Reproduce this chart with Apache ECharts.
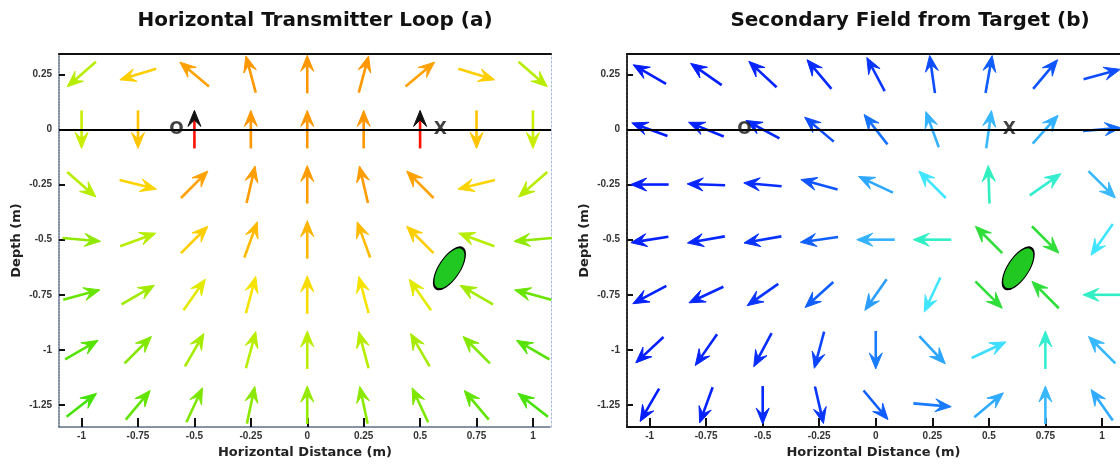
<!DOCTYPE html>
<html>
<head>
<meta charset="utf-8">
<script src="https://cdn.jsdelivr.net/npm/echarts@6.0.0/dist/echarts.min.js"></script>
<style>
  html, body { margin: 0; padding: 0; background: #fff; }
  #main { width: 1120px; height: 464px; }
</style>
</head>
<body>
<div id="main"></div>
<script>
// grid of arrow positions (m)
var xs = [-1, -0.75, -0.5, -0.25, 0, 0.25, 0.5, 0.75, 1];
var ys = [0.25, 0, -0.25, -0.5, -0.75, -1, -1.25];
var xTicks = [-1, -0.75, -0.5, -0.25, 0, 0.25, 0.5, 0.75, 1];
var yTicks = [0.25, 0, -0.25, -0.5, -0.75, -1, -1.25];

// (a) primary field: direction in degrees (0 = right, 90 = up) and relative strength
var loopAngle = [
	[221, 197, 140, 105, 90, 75, 40, -17, -41],
	[-90, -90, 90, 90, 90, 90, 90, -90, -90],
	[-41, -14, 45, 77, 90, 103, 135, 194, 221],
	[-5, 20, 45, 70, 90, 110, 135, 160, 185],
	[15, 30, 55, 75, 90, 105, 125, 150, 165],
	[30, 45, 60, 75, 90, 105, 120, 135, 150],
	[38, 50, 65, 78, 90, 102, 115, 130, 142]
];
var loopMag = [
	[0.33, 0.6, 0.78, 0.82, 0.82, 0.82, 0.78, 0.6, 0.33],
	[0.38, 0.64, 1.0, 0.82, 0.82, 0.82, 1.0, 0.64, 0.38],
	[0.33, 0.58, 0.78, 0.8, 0.8, 0.8, 0.78, 0.58, 0.33],
	[0.23, 0.33, 0.6, 0.68, 0.7, 0.68, 0.6, 0.33, 0.23],
	[0.14, 0.27, 0.45, 0.52, 0.55, 0.52, 0.45, 0.27, 0.14],
	[0.1, 0.2, 0.29, 0.33, 0.34, 0.33, 0.29, 0.2, 0.1],
	[0.06, 0.13, 0.19, 0.22, 0.24, 0.22, 0.19, 0.13, 0.06]
];

// (b) secondary field from target
var targetAngle = [
	[150, 145, 137, 130, 118, 98, 80, 50, 15],
	[160, 158, 152, 140, 128, 110, 82, 48, 5],
	[180, 178, 175, 165, 155, 135, 92, 35, -45],
	[189, 190, 190, 188, 180, 180, 135, -45, 235],
	[208, 205, 215, 222, 235, 245, -45, 135, 180],
	[223, 235, 242, 255, 270, -47, 25, 90, 135],
	[240, 250, 270, 283, -50, -5, 40, 90, 125]
];
var targetMag = [
	[0.05, 0.06, 0.08, 0.1, 0.14, 0.2, 0.24, 0.22, 0.2],
	[0.06, 0.07, 0.1, 0.2, 0.3, 0.48, 0.5, 0.48, 0.28],
	[0.06, 0.08, 0.12, 0.22, 0.45, 0.62, 0.75, 0.72, 0.5],
	[0.07, 0.09, 0.13, 0.25, 0.48, 0.74, 0.95, 0.95, 0.62],
	[0.07, 0.09, 0.14, 0.25, 0.42, 0.62, 0.95, 0.95, 0.74],
	[0.06, 0.08, 0.12, 0.18, 0.32, 0.44, 0.6, 0.72, 0.5],
	[0.05, 0.07, 0.1, 0.14, 0.24, 0.32, 0.46, 0.5, 0.46]
];

// loop wires (O = out, X = in) and the target body
var wireNames = ['O', 'X'];
var wireX = [-0.58, 0.59];
var targetPos = [0.63, -0.63];

var xRange = [-1.1, 1.08];
var yRange = [-1.35, 0.342];

function field(angles, mags)
{
	var out = [];
	for (var i = 0; i < ys.length; i++)
		for (var j = 0; j < xs.length; j++)
			out.push([xs[j], ys[i], angles[i][j], mags[i][j]]);
	return out;
}

function wires()
{
	var out = [];
	for (var i = 0; i < wireNames.length; i++)
		out.push({ name: wireNames[i], value: [wireX[i], 0] });
	return out;
}

function arrowItem(params, api)
{
	var c = api.coord([api.value(0), api.value(1)]);
	var a = api.value(2) * Math.PI / 180;
	var ux = Math.cos(a), uy = -Math.sin(a);
	var L = 38, hl = 16, hw = 6.5;
	var tail = [c[0] - ux * L / 2, c[1] - uy * L / 2];
	var tip = [c[0] + ux * L / 2, c[1] + uy * L / 2];
	var base = [tip[0] - ux * hl, tip[1] - uy * hl];
	var mid = [tip[0] - ux * hl * 0.6, tip[1] - uy * hl * 0.6];
	var px = -uy, py = ux;
	var color = api.visual('color');
	var headColor = api.value(3) >= 0.99 ? '#111' : color;
	return {
		type: 'group',
		children: [
			{ type: 'line', shape: { x1: tail[0], y1: tail[1], x2: mid[0], y2: mid[1] },
			  style: { stroke: color, lineWidth: 2.6 } },
			{ type: 'polygon', shape: { points: [tip, [base[0] + px * hw, base[1] + py * hw], mid, [base[0] - px * hw, base[1] - py * hw]] },
			  style: { fill: headColor, stroke: headColor, lineWidth: 1 } }
		]
	};
}

var FONT = "'Liberation Sans', Arial, sans-serif";
var BOLD_FONT = "'DejaVu Sans', 'Liberation Sans', sans-serif";

function bottomAxis(grid, lineStyle)
{
	return {
		type: 'value', gridIndex: grid, min: xRange[0], max: xRange[1],
		position: 'bottom',
		name: 'Horizontal Distance (m)', nameLocation: 'middle', nameGap: 17,
		nameTextStyle: { fontFamily: BOLD_FONT, fontSize: 13, fontWeight: 'bold', color: '#222' },
		axisLine: { show: true, onZero: false, lineStyle: lineStyle },
		axisTick: { show: true, inside: true, length: 9, customValues: xTicks, lineStyle: { color: '#111', width: 2 } },
		axisLabel: { show: true, margin: 4, customValues: xTicks, fontFamily: FONT, fontSize: 10, fontWeight: 'bold', color: '#333' },
		splitLine: { show: false }
	};
}

function topAxis(grid)
{
	return {
		type: 'value', gridIndex: grid, min: xRange[0], max: xRange[1], position: 'top',
		axisLine: { show: true, onZero: false, lineStyle: { color: '#111', width: 2 } },
		axisTick: { show: false }, axisLabel: { show: false }, splitLine: { show: false }
	};
}

function leftAxis(grid, lineStyle)
{
	return {
		type: 'value', gridIndex: grid, min: yRange[0], max: yRange[1], position: 'left',
		name: 'Depth (m)', nameLocation: 'middle', nameGap: 36,
		nameTextStyle: { fontFamily: BOLD_FONT, fontSize: 13, fontWeight: 'bold', color: '#222' },
		axisLine: { show: true, onZero: false, lineStyle: lineStyle },
		axisTick: { show: true, inside: true, length: 6, customValues: yTicks, lineStyle: { color: '#111', width: 2 } },
		axisLabel: { show: true, margin: 7, customValues: yTicks, fontFamily: FONT, fontSize: 10, fontWeight: 'bold', color: '#333' },
		splitLine: { show: false }
	};
}

function wireSeries(xi, yi)
{
	return {
		type: 'scatter', xAxisIndex: xi, yAxisIndex: yi, z: 5,
		symbolSize: 0, data: wires(),
		label: { show: true, position: 'inside', formatter: '{b}', fontFamily: BOLD_FONT, fontSize: 17, fontWeight: 'bold', color: '#111' },
		markLine: {
			silent: true, symbol: 'none', label: { show: false },
			lineStyle: { color: '#000', width: 2, type: 'solid' },
			data: [{ yAxis: 0 }]
		}
	};
}

function targetSeries(xi, yi)
{
	return {
		type: 'scatter', xAxisIndex: xi, yAxisIndex: yi, z: 6,
		symbol: 'circle', symbolSize: [21, 48], symbolRotate: -33,
		itemStyle: { color: '#22c822', borderColor: '#000', borderWidth: 1.5, opacity: 1 },
		data: [targetPos]
	};
}

var chart = echarts.init(document.getElementById('main'));
chart.setOption({
	animation: false,
	backgroundColor: '#fff',
	title: [
		{ text: 'Horizontal Transmitter Loop (a)', left: 310, top: 6, textAlign: 'center',
		  textStyle: { fontFamily: BOLD_FONT, fontSize: 20, fontWeight: 'bold', color: '#111' } },
		{ text: 'Secondary Field from Target (b)', left: 905, top: 6, textAlign: 'center',
		  textStyle: { fontFamily: BOLD_FONT, fontSize: 20, fontWeight: 'bold', color: '#111' } }
	],
	grid: [
		{ left: 59, top: 54, width: 492, height: 374 },
		{ left: 627, top: 54, width: 496, height: 376 }
	],
	xAxis: [
		bottomAxis(0, { color: '#5b6b85', width: 1.5, type: [2, 1] }),
		bottomAxis(1, { color: '#111', width: 2 }),
		topAxis(0),
		topAxis(1)
	],
	yAxis: [
		leftAxis(0, { color: '#5b6b85', width: 1.5, type: [2, 1] }),
		leftAxis(1, { color: '#2a2a2a', width: 2, type: [3, 1] }),
		{ type: 'value', gridIndex: 0, min: yRange[0], max: yRange[1], position: 'right',
		  axisLine: { show: true, onZero: false, lineStyle: { color: '#a8bcd8', width: 1, type: [2, 2] } },
		  axisTick: { show: false }, axisLabel: { show: false }, splitLine: { show: false } }
	],
	visualMap: [
		{ type: 'continuous', show: false, seriesIndex: 0, dimension: 3, min: 0, max: 1,
		  inRange: { color: ['#30e010', '#60e400', '#98ea00', '#c8ee00', '#f4e800', '#ffc800', '#ffa800', '#ff8a00', '#ff1000'] } },
		{ type: 'continuous', show: false, seriesIndex: 1, dimension: 3, min: 0, max: 1,
		  inRange: { color: ['#0010ff', '#0830ff', '#1060ff', '#2090ff', '#38b8ff', '#40e8ff', '#30f0c0', '#30e860', '#30d820'] } }
	],
	series: [
		{ type: 'custom', xAxisIndex: 0, yAxisIndex: 0, z: 2, renderItem: arrowItem,
		  encode: { x: 0, y: 1 }, data: field(loopAngle, loopMag) },
		{ type: 'custom', xAxisIndex: 1, yAxisIndex: 1, z: 2, renderItem: arrowItem,
		  encode: { x: 0, y: 1 }, data: field(targetAngle, targetMag) },
		wireSeries(0, 0),
		wireSeries(1, 1),
		targetSeries(0, 0),
		targetSeries(1, 1)
	]
});
</script>
</body>
</html>
